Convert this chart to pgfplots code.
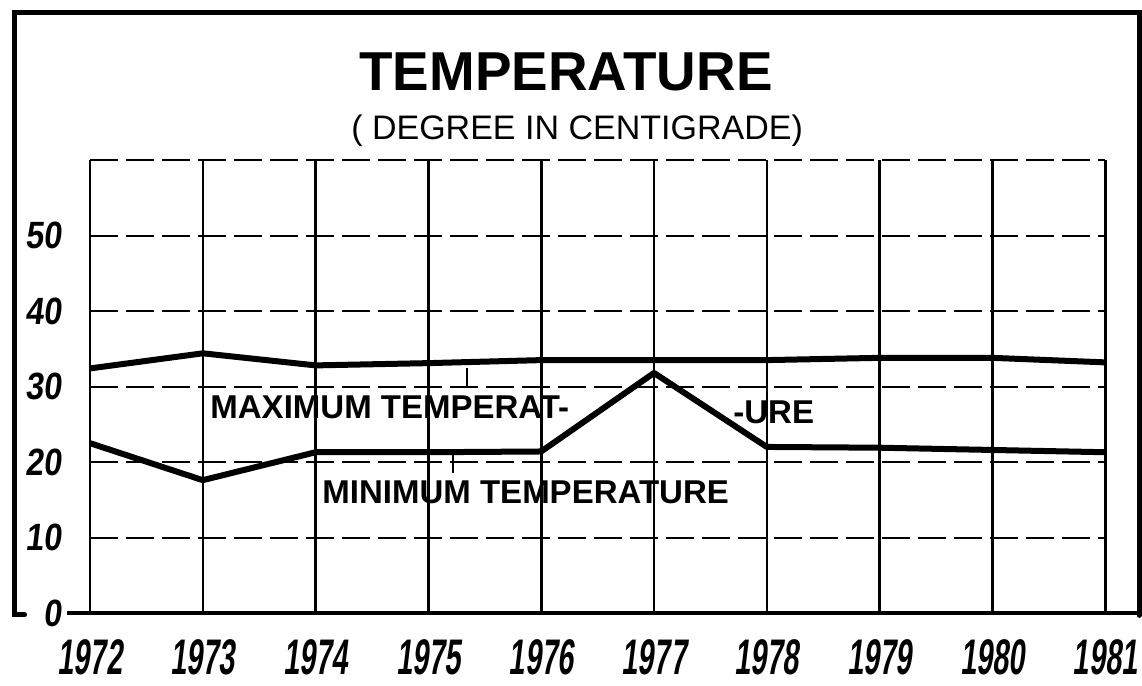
\documentclass[border=0pt]{standalone}
\usepackage{fontspec}
\setmainfont{Liberation Sans}
\newfontfamily\yearfont[FakeStretch=0.58,FakeSlant=0.12]{Liberation Sans}
\newfontfamily\yfont[FakeStretch=0.85,FakeSlant=0.12]{Liberation Sans}
\usepackage{pgfplots}
\pgfplotsset{compat=1.18}
\begin{document}
\begin{tikzpicture}
\begin{axis}[
  scale only axis, width=507.5pt, height=226.5pt,
  xmin=1972, xmax=1981, ymin=0, ymax=60,
  clip=false,
  axis line style={draw=none},
  xtick={1972,1973,1974,1975,1976,1977,1978,1979,1980,1981},
  xticklabels={1972,1973,1974,1975,1976,1977,1978,1979,1980,1981},
  ytick={0,10,20,30,40,50,60},
  yticklabels={0,10,20,30,40,50,{}},
  major tick length=0pt,
  xmajorgrids, ymajorgrids,
  x grid style={black, line width=1.3pt},
  y grid style={black, line width=1pt, dash pattern=on 14pt off 4pt},
  xticklabel style={font=\yearfont\bfseries\fontsize{25}{25}\selectfont, anchor=north, inner sep=0pt, yshift=-13pt},
  yticklabel style={font=\yfont\bfseries\fontsize{19}{19}\selectfont, anchor=east, inner sep=0pt, xshift=-14pt},
]
\path (axis cs:1971.2021,-9.536) rectangle (axis cs:1981.3262,81.19);
% frame
\draw[line width=2.5pt, line cap=round] (axis cs:1971.42,-0.25) -- (axis cs:1971.335,-0.25) -- (axis cs:1971.335,79.47) -- (axis cs:1981.301,79.47) -- (axis cs:1981.301,-0.3);
\draw[line width=2.2pt] (axis cs:1971.8,0) -- (axis cs:1981.301,0);
% data
\addplot[black, line width=3pt, line join=round] coordinates {(1972,32.4)(1973,34.4)(1974,32.8)(1975,33.1)(1976,33.5)(1977,33.5)(1978,33.5)(1979,33.8)(1980,33.8)(1981,33.2)};
\addplot[black, line width=3pt, line join=round] coordinates {(1972,22.5)(1973,17.6)(1974,21.3)(1975,21.3)(1976,21.4)(1977,31.8)(1978,22.0)(1979,21.9)(1980,21.6)(1981,21.3)};
% labels
\node[font=\bfseries\fontsize{27.4}{27.4}\selectfont, inner sep=0pt, anchor=base] at (axis cs:1976.22,69.27) {TEMPERATURE};
\node[font=\fontsize{17}{17}\selectfont, inner sep=0pt, anchor=base] at (axis cs:1976.318,62.65) {( DEGREE IN CENTIGRADE)};
\node[font=\bfseries\fontsize{16.5}{16.5}\selectfont, inner sep=0pt, anchor=base west] at (axis cs:1973.064,25.83) {MAXIMUM TEMPERAT-};
\node[font=\bfseries\fontsize{16.5}{16.5}\selectfont, inner sep=0pt, anchor=base west] at (axis cs:1977.70,25.17) {-URE};
\node[font=\bfseries\fontsize{16.5}{16.5}\selectfont, inner sep=0pt, anchor=base west] at (axis cs:1974.057,14.57) {MINIMUM TEMPERATURE};
\draw[line width=1.2pt] (axis cs:1975.343,32.4) -- (axis cs:1975.343,29.8);
\draw[line width=1.2pt] (axis cs:1975.219,21.2) -- (axis cs:1975.219,18.5);
\end{axis}
\end{tikzpicture}
\end{document}
